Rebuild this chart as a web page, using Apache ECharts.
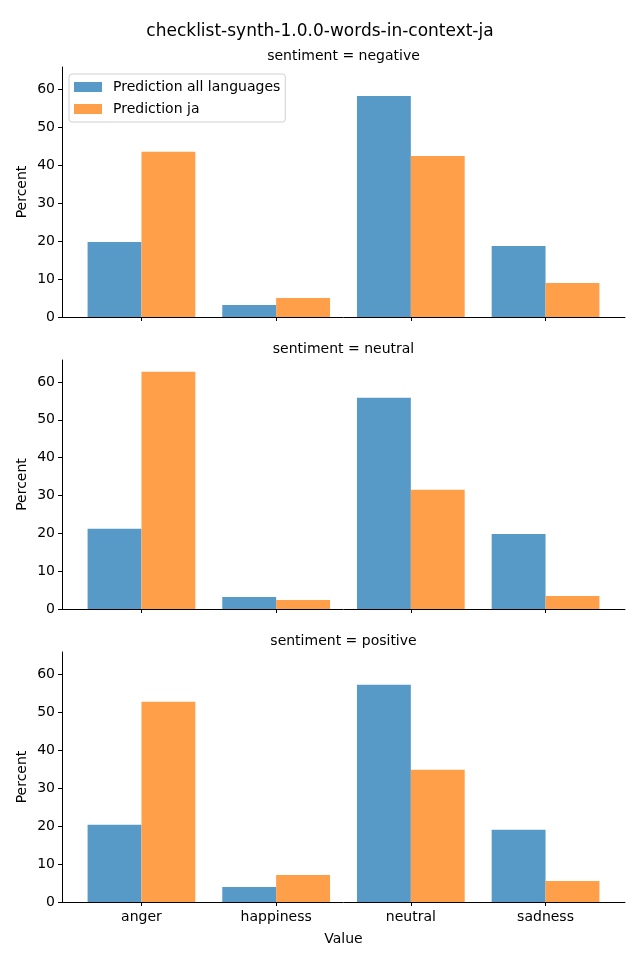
<!DOCTYPE html>
<html><head><meta charset="utf-8">
<script src="https://cdn.jsdelivr.net/npm/echarts@6/dist/echarts.min.js"></script>
<style>html,body{margin:0;padding:0;background:#fff}#c{width:640px;height:960px}</style>
</head><body><div id="c"></div>
<script>
const categories = ['anger', 'happiness', 'neutral', 'sadness'];
const panelTitles = ['sentiment = negative', 'sentiment = neutral', 'sentiment = positive'];
const seriesNames = ['Prediction all languages', 'Prediction ja'];
const allNegative = [19.76, 3.16, 58.2, 18.7];
const jaNegative = [43.48, 5.0, 42.4, 8.96];
const allNeutral = [21.2, 3.18, 55.85, 19.85];
const jaNeutral = [62.7, 2.38, 31.5, 3.44];
const allPositive = [20.3, 3.95, 57.2, 19.0];
const jaPositive = [52.7, 7.1, 34.8, 5.53];
const yTicks = [0, 10, 20, 30, 40, 50, 60];
const yMax = 65.8;

const allData = [allNegative, allNeutral, allPositive];
const jaData = [jaNegative, jaNeutral, jaPositive];
const colors = ['#5799c7', '#ff9f4a'];
const font = 'DejaVu Sans';
const panels = [{top: 67, height: 250}, {top: 360, height: 249}, {top: 652, height: 250}];
// axes frame spans 62..625; category bands follow matplotlib's 5% x-margins
const axLeft = 62, axRight = 15;
const bandLeft = 74.12, bandRight = 27.12;
const grids = [];
panels.forEach(p => {
  grids.push({left: axLeft, right: axRight, top: p.top, height: p.height});
  grids.push({left: bandLeft, right: bandRight, top: p.top, height: p.height});
});
const txt = {fontFamily: font, fontSize: 14, color: '#000'};
const xAxes = [], yAxes = [];
panels.forEach((p, i) => {
  xAxes.push({type: 'value', gridIndex: 2 * i, min: 0, max: 1,
    axisLine: {show: true, onZero: false, lineStyle: {color: '#000', width: 1}},
    axisTick: {show: false}, axisLabel: {show: false}, splitLine: {show: false},
    name: i === 2 ? 'Value' : '', nameLocation: 'middle', nameGap: 30, nameTextStyle: txt});
  xAxes.push({type: 'category', gridIndex: 2 * i + 1, data: categories,
    axisLine: {show: false},
    axisTick: {show: true, alignWithLabel: true, length: 4, lineStyle: {color: '#000'}},
    axisLabel: Object.assign({show: i === 2, margin: 8}, txt),
    splitLine: {show: false}});
  yAxes.push({type: 'value', gridIndex: 2 * i, min: 0, max: yMax, interval: 10,
    axisLine: {show: true, lineStyle: {color: '#000', width: 1}},
    axisTick: {show: true, length: 4, lineStyle: {color: '#000'}},
    axisLabel: Object.assign({margin: 7, showMaxLabel: false,
      formatter: v => (yTicks.indexOf(v) >= 0 ? String(v) : '')}, txt),
    splitLine: {show: false},
    name: 'Percent', nameLocation: 'middle', nameGap: 33, nameRotate: 90, nameMoveOverlap: false,
    nameTextStyle: txt});
  yAxes.push({type: 'value', gridIndex: 2 * i + 1, min: 0, max: yMax, show: false,
    splitLine: {show: false}});
});
const option = {
  animation: false,
  textStyle: {fontFamily: font, color: '#000'},
  title: [{text: 'checklist-synth-1.0.0-words-in-context-ja', left: 'center', top: 18,
    textStyle: {fontFamily: font, fontSize: 17, fontWeight: 'normal', color: '#000'}}]
    .concat(panelTitles.map((t, i) => ({text: t, left: 338.5, textAlign: 'center', top: panels[i].top - 23,
      textStyle: {fontFamily: font, fontSize: 14, fontWeight: 'normal', color: '#000'}}))),
  legend: {
    data: seriesNames, orient: 'vertical', left: 69, top: 74, itemWidth: 28, itemHeight: 10, itemGap: 8,
    padding: [6, 5, 6, 5], borderColor: '#d0d0d0', borderWidth: 1, borderRadius: 3, backgroundColor: '#fff',
    textStyle: {fontFamily: font, fontSize: 14, color: '#000', padding: [0, 0, 0, 6]}, icon: 'rect'
  },
  grid: grids,
  xAxis: xAxes,
  yAxis: yAxes,
  series: []
};
for (let i = 0; i < 3; i++) {
  option.series.push({name: seriesNames[0], type: 'bar', xAxisIndex: 2 * i + 1, yAxisIndex: 2 * i + 1, data: allData[i],
    itemStyle: {color: colors[0]}, barGap: '0%', barCategoryGap: '20%'});
  option.series.push({name: seriesNames[1], type: 'bar', xAxisIndex: 2 * i + 1, yAxisIndex: 2 * i + 1, data: jaData[i],
    itemStyle: {color: colors[1]}, barGap: '0%', barCategoryGap: '20%'});
}
echarts.init(document.getElementById('c'), null, {renderer: 'canvas'}).setOption(option);
</script></body></html>
